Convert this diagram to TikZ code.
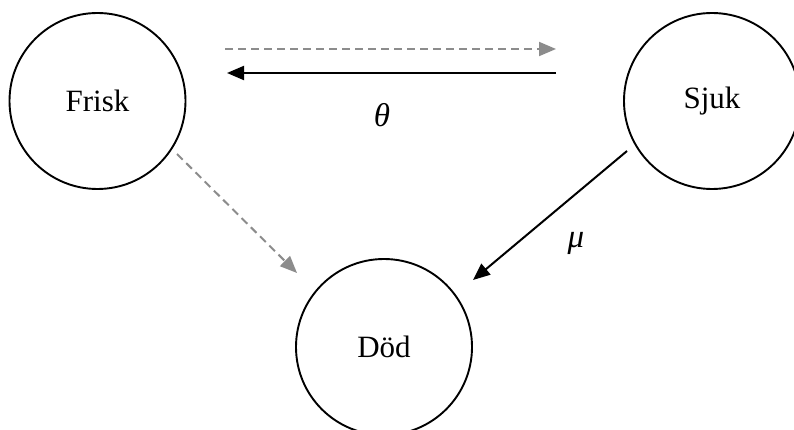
\documentclass[tikz,border=0pt]{standalone}
\usepackage{fontspec}
\setmainfont{Liberation Serif}
\usetikzlibrary{arrows.meta}
\definecolor{dashgray}{RGB}{140,140,140}
\begin{document}
\begin{tikzpicture}[x=1pt,y=-1pt,
  state/.style={circle,draw=black,line width=1.9pt,minimum size=176pt,inner sep=0pt,font=\fontsize{31}{36}\selectfont},
  solidarrow/.style={draw=black,line width=2pt,-{Triangle[length=17pt,width=14pt]}},
  dasharrow/.style={draw=dashgray,line width=2pt,dash pattern=on 8pt off 5pt,-{Triangle[length=17pt,width=14pt]}},
  lbl/.style={font=\fontsize{33}{38}\selectfont\itshape}]
\useasboundingbox (0,0) rectangle (794,430);
\begin{scope}
\clip (0,0) rectangle (794,430);
\node[state] (frisk) at (97.5,101) {Frisk};
\node[state] (sjuk) at (712,101) {Sjuk};
\node[state] (dod) at (384,347) {Död};
\end{scope}
\coordinate (d1s) at (225,49);
\coordinate (d1e) at (556,49);
\coordinate (s1s) at (556,73);
\coordinate (s1e) at (227,73);
\coordinate (d2s) at (177,154);
\coordinate (d2e) at (297,273);
\coordinate (s2s) at (627,151);
\coordinate (s2e) at (473,280);
\draw[dasharrow] (d1s) -- (d1e);
\draw[solidarrow] (s1s) -- (s1e);
\draw[dasharrow] (d2s) -- (d2e);
\draw[solidarrow] (s2s) -- (s2e);
\node[lbl] (theta) at (382,115) {θ};
\node[lbl] (mu) at (576,243) {μ};
\end{tikzpicture}
\end{document}
